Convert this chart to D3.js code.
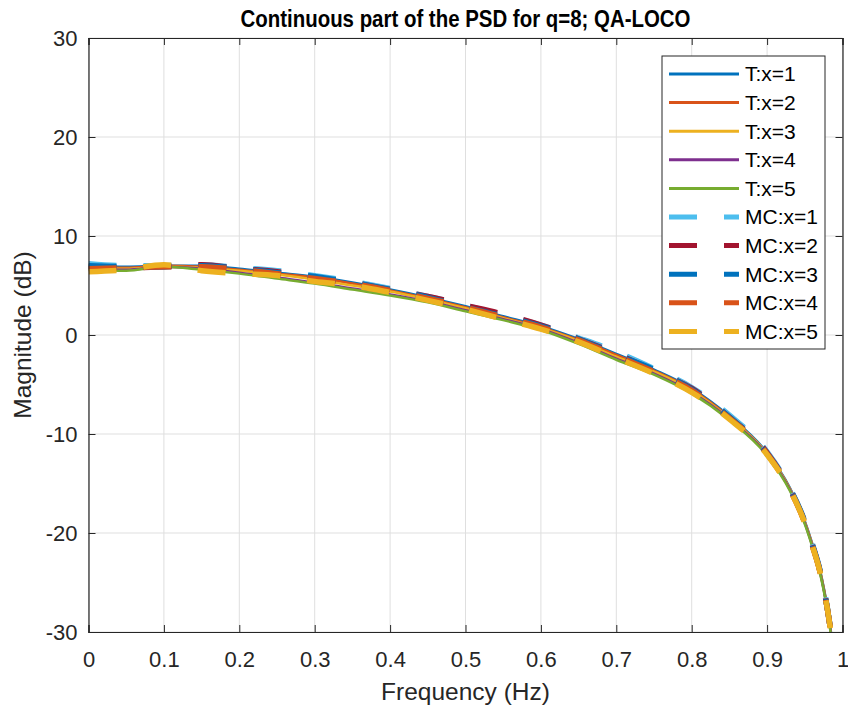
<!DOCTYPE html>
<html>
<head>
<meta charset="utf-8">
<script src="https://cdn.jsdelivr.net/npm/d3@7"></script>
<style>
  body { margin: 0; background: #fff; }
  text { font-family: "Liberation Sans", Arial, sans-serif; fill: #262626; }
  .grid line { stroke: #dfdfdf; stroke-width: 1; }
</style>
</head>
<body>
<script>
// frequency samples (Hz)
var freq = [0, 0.05, 0.1, 0.15, 0.2, 0.25, 0.3, 0.35, 0.4, 0.45, 0.5, 0.55, 0.6, 0.65, 0.7,
            0.75, 0.8, 0.85, 0.9, 0.93, 0.95, 0.96, 0.97, 0.98, 0.99];

// theoretical curves (dB)
var tX1 = [7.0, 6.9, 7.0, 7.0, 6.7, 6.3, 5.9, 5.3, 4.6, 3.8, 2.9, 1.9, 0.9, -0.4, -1.9,
           -3.5, -5.4, -8.2, -11.9, -15.4, -18.8, -21.1, -23.7, -27.6, -33.0];
var tX2 = [6.9, 6.8, 7.0, 6.9, 6.6, 6.2, 5.8, 5.2, 4.5, 3.7, 2.8, 1.8, 0.8, -0.5, -2.0,
           -3.6, -5.5, -8.3, -12.0, -15.5, -18.9, -21.2, -23.8, -27.7, -33.1];
var tX3 = [6.8, 6.7, 6.9, 6.8, 6.5, 6.1, 5.6, 5.0, 4.4, 3.6, 2.7, 1.7, 0.7, -0.6, -2.2,
           -3.7, -5.6, -8.4, -12.0, -15.5, -18.9, -21.2, -23.8, -27.7, -33.1];
var tX4 = [6.7, 6.6, 6.9, 6.7, 6.3, 5.8, 5.3, 4.7, 4.1, 3.4, 2.5, 1.6, 0.6, -0.8, -2.4,
           -3.9, -5.8, -8.5, -12.1, -15.6, -19.0, -21.3, -23.9, -27.8, -33.2];
var tX5 = [6.6, 6.5, 6.9, 6.6, 6.2, 5.7, 5.2, 4.6, 4.0, 3.3, 2.4, 1.5, 0.5, -0.9, -2.5,
           -4.0, -5.9, -8.6, -12.2, -15.7, -19.1, -21.4, -24.0, -27.9, -33.3];

// Monte Carlo estimates (dB)
var mcX1 = [7.2, 7.0, 7.0, 7.1, 6.8, 6.5, 6.0, 5.4, 4.7, 3.9, 3.0, 2.0, 1.0, -0.3, -1.7,
            -3.4, -5.3, -8.1, -11.8, -15.4, -18.8, -21.1, -23.7, -27.6, -33.0];
var mcX2 = [6.9, 6.8, 6.9, 7.1, 6.7, 6.4, 5.8, 5.3, 4.6, 3.9, 3.0, 2.1, 1.0, -0.4, -1.9,
            -3.6, -5.4, -8.3, -11.9, -15.5, -18.9, -21.2, -23.8, -27.7, -33.1];
var mcX3 = [7.0, 6.9, 6.9, 7.0, 6.7, 6.3, 5.9, 5.3, 4.6, 3.8, 2.8, 1.9, 0.9, -0.4, -2.0,
            -3.5, -5.5, -8.3, -12.0, -15.5, -18.9, -21.2, -23.8, -27.7, -33.1];
var mcX4 = [6.7, 6.8, 6.9, 6.9, 6.6, 6.2, 5.7, 5.2, 4.5, 3.7, 2.8, 1.8, 0.8, -0.5, -2.1,
            -3.7, -5.6, -8.4, -12.0, -15.6, -19.0, -21.3, -23.9, -27.7, -33.1];
var mcX5 = [6.4, 6.6, 7.1, 6.5, 6.2, 6.0, 5.4, 5.0, 4.3, 3.5, 2.6, 1.6, 0.6, -0.7, -2.3,
            -3.9, -5.8, -8.5, -12.1, -15.6, -19.0, -21.3, -23.9, -27.7, -33.1];

var seriesNames = ["T:x=1", "T:x=2", "T:x=3", "T:x=4", "T:x=5",
                   "MC:x=1", "MC:x=2", "MC:x=3", "MC:x=4", "MC:x=5"];
var xTicks = [0, 0.1, 0.2, 0.3, 0.4, 0.5, 0.6, 0.7, 0.8, 0.9, 1];
var yTicks = [-30, -20, -10, 0, 10, 20, 30];

(function () {
    var series = [
        { name: seriesNames[0], values: tX1, color: "#0072BD", mc: false },
        { name: seriesNames[1], values: tX2, color: "#D95319", mc: false },
        { name: seriesNames[2], values: tX3, color: "#EDB120", mc: false },
        { name: seriesNames[3], values: tX4, color: "#7E2F8E", mc: false },
        { name: seriesNames[4], values: tX5, color: "#77AC30", mc: false },
        { name: seriesNames[5], values: mcX1, color: "#4DBEEE", mc: true },
        { name: seriesNames[6], values: mcX2, color: "#A2142F", mc: true },
        { name: seriesNames[7], values: mcX3, color: "#0072BD", mc: true },
        { name: seriesNames[8], values: mcX4, color: "#D95319", mc: true },
        { name: seriesNames[9], values: mcX5, color: "#EDB120", mc: true }
    ];

    var margin = { top: 38, right: 5.5, bottom: 79, left: 88.5 };
    var width = 848 - margin.left - margin.right;
    var height = 711 - margin.top - margin.bottom;

    var root = d3.select("body").append("svg")
        .attr("width", 848)
        .attr("height", 711);

    var svg = root.append("g")
        .attr("transform", "translate(" + margin.left + "," + margin.top + ")");

    var x = d3.scaleLinear().domain([0, 1]).range([0, width]);
    var y = d3.scaleLinear().domain([-30, 30]).range([height, 0]);

    // grid
    var grid = svg.append("g").attr("class", "grid");
    grid.selectAll(".gx").data(xTicks).enter().append("line")
        .attr("x1", d => x(d)).attr("x2", d => x(d))
        .attr("y1", 0).attr("y2", height);
    grid.selectAll(".gy").data(yTicks).enter().append("line")
        .attr("y1", d => y(d)).attr("y2", d => y(d))
        .attr("x1", 0).attr("x2", width);

    svg.append("clipPath").attr("id", "plotclip")
        .append("rect").attr("width", width).attr("height", height);

    var line = d3.line()
        .x((d, i) => x(freq[i]))
        .y(d => y(d))
        .curve(d3.curveMonotoneX);

    var plot = svg.append("g").attr("clip-path", "url(#plotclip)");
    plot.selectAll("path.series")
        .data(series)
        .enter()
          .append("path")
            .attr("class", "series")
            .attr("fill", "none")
            .attr("stroke", d => d.color)
            .attr("stroke-width", d => d.mc ? 5.5 : 2.5)
            .attr("stroke-dasharray", d => d.mc ? "28,27" : null)
            .attr("d", d => line(d.values));

    // axes
    var fmt = d => String(d);
    var xAxis = d3.axisBottom(x).tickValues(xTicks).tickSize(-7).tickPadding(19).tickFormat(fmt);
    var yAxis = d3.axisLeft(y).tickValues(yTicks).tickSize(-7).tickPadding(11).tickFormat(fmt);

    var xAxisTop = d3.axisTop(x).tickValues(xTicks).tickSize(-7).tickFormat("");
    var yAxisRight = d3.axisRight(y).tickValues(yTicks).tickSize(-7).tickFormat("");

    [svg.append("g").attr("transform", "translate(0," + height + ")").call(xAxis),
     svg.append("g").call(yAxis),
     svg.append("g").call(xAxisTop),
     svg.append("g").attr("transform", "translate(" + width + ",0)").call(yAxisRight)
    ].forEach(function (g) {
        g.select(".domain").attr("stroke", "#262626").attr("stroke-width", 1.2);
        g.selectAll(".tick line").attr("stroke", "#262626");
        g.selectAll(".tick text").attr("font-size", 22).attr("fill", "#262626");
    });

    // titles
    root.append("text")
        .attr("x", margin.left + width / 2)
        .attr("y", 27)
        .attr("text-anchor", "middle")
        .attr("font-size", 24)
        .attr("font-weight", "bold")
        .attr("textLength", 450)
        .attr("lengthAdjust", "spacingAndGlyphs")
        .style("fill", "#000")
        .text("Continuous part of the PSD for q=8; QA-LOCO");

    root.append("text")
        .attr("x", margin.left + width / 2)
        .attr("y", 700)
        .attr("text-anchor", "middle")
        .attr("font-size", 24.5)
        .text("Frequency (Hz)");

    root.append("text")
        .attr("transform", "translate(31," + (margin.top + height / 2) + ") rotate(-90)")
        .attr("text-anchor", "middle")
        .attr("font-size", 24.5)
        .text("Magnitude (dB)");

    // legend
    var legend = root.append("g").attr("transform", "translate(662,56)");
    legend.append("rect")
        .attr("width", 163).attr("height", 293)
        .attr("fill", "#fff").attr("stroke", "#262626").attr("stroke-width", 1);

    var rows = legend.selectAll("g.row")
        .data(series)
        .enter()
          .append("g")
            .attr("class", "row")
            .attr("transform", (d, i) => "translate(0," + (18 + i * 28.6) + ")");
    rows.append("line")
        .attr("x1", 7).attr("x2", 77)
        .attr("stroke", d => d.color)
        .attr("stroke-width", d => d.mc ? 5 : 3)
        .attr("stroke-dasharray", d => d.mc ? "28,27" : null);
    rows.append("text")
        .attr("x", 83)
        .attr("dy", "0.35em")
        .attr("font-size", 21)
        .style("fill", "#000")
        .text(d => d.name);
})();
</script>
</body>
</html>
